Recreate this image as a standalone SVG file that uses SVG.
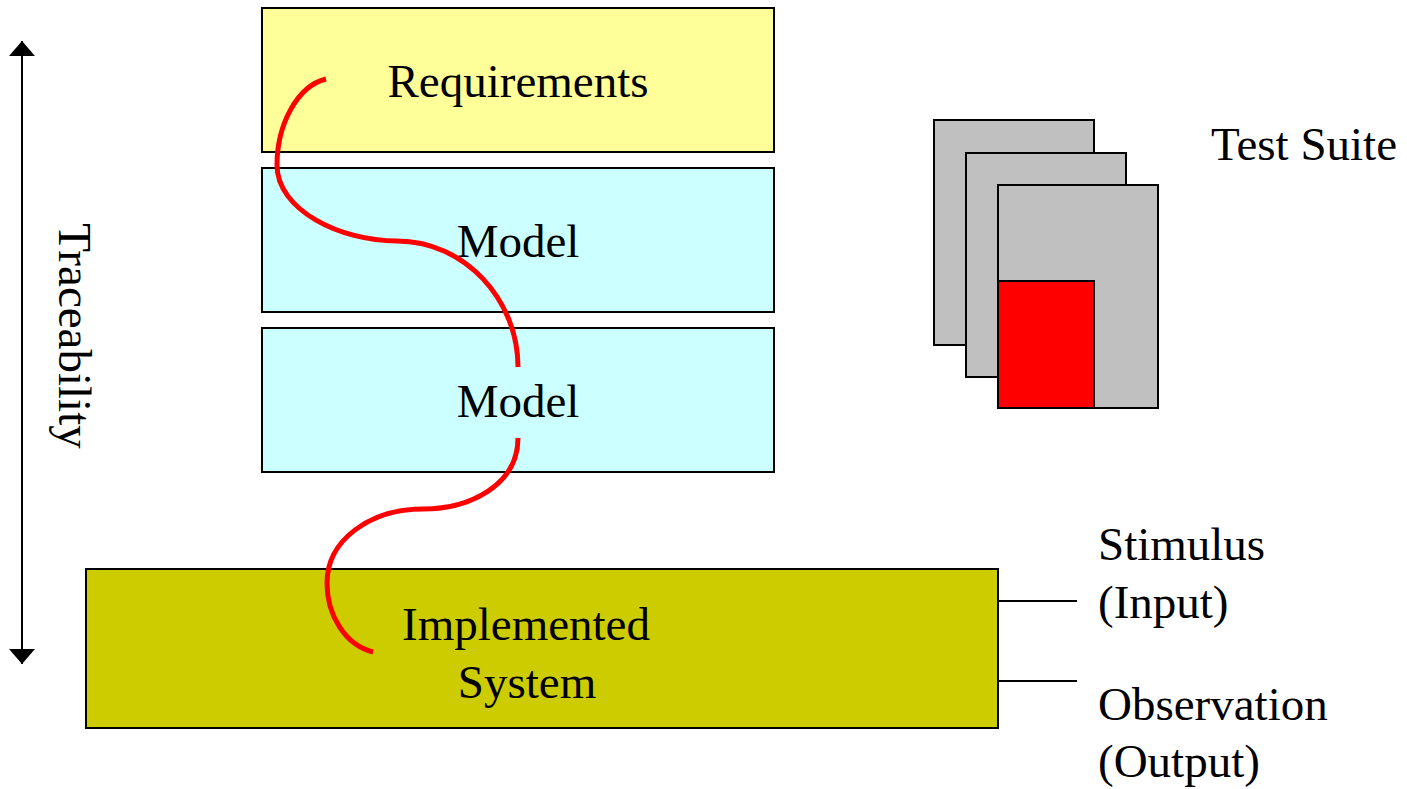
<svg xmlns="http://www.w3.org/2000/svg" width="1407" height="789" viewBox="0 0 1407 789">
<style>
.box{stroke:#000;stroke-width:2}
.t{font-family:"Liberation Serif","Times New Roman",serif;font-size:47px;fill:#000}
.m{text-anchor:middle}
.red{fill:none;stroke:#f00;stroke-width:5;stroke-linecap:butt}
.ln{stroke:#000;stroke-width:2;fill:none}
.pg{fill:#c0c0c0;stroke:#000;stroke-width:2}
</style>
<defs>
<marker id="ah" viewBox="0 0 15 26" refX="15" refY="13" markerWidth="15" markerHeight="26" markerUnits="userSpaceOnUse" orient="auto">
<path d="M0,0 L15,13 L0,26 Z" fill="#000"/>
</marker>
</defs>
<rect width="1407" height="789" fill="#fff"/>
<g id="requirements"><rect class="box" x="262" y="8" width="512" height="144" fill="#ffff99"/><text class="t m" x="518" y="97">Requirements</text></g>
<g id="model1"><rect class="box" x="262" y="168" width="512" height="144" fill="#ccffff"/><text class="t m" x="518" y="257">Model</text></g>
<g id="model2"><rect class="box" x="262" y="328" width="512" height="144" fill="#ccffff"/><text class="t m" x="518" y="417">Model</text></g>
<g id="implemented"><rect class="box" x="86" y="569" width="912" height="159" fill="#cccc00"/><text class="t m" x="526" y="640">Implemented</text><text class="t m" x="527" y="698">System</text></g>
<g id="testsuite">
<rect class="pg" x="934" y="120" width="160" height="225"/>
<rect class="pg" x="966" y="153" width="160" height="224"/>
<rect class="pg" x="998" y="185" width="160" height="223"/>
<rect x="998" y="281" width="96" height="127" fill="#f00" stroke="#000" stroke-width="2"/>
<text class="t" x="1211" y="160">Test Suite</text>
</g>
<g id="traceability"><text class="t m" transform="translate(59,336) rotate(90)">Traceability</text></g>
<g id="io-labels">
<text class="t" x="1098" y="560">Stimulus</text>
<text class="t" x="1098" y="618">(Input)</text>
<text class="t" x="1098" y="720">Observation</text>
<text class="t" x="1098" y="777">(Output)</text>
</g>
<g id="connectors">
<line class="ln" x1="22" y1="336" x2="22" y2="41" marker-end="url(#ah)"/>
<line class="ln" x1="22" y1="336" x2="22" y2="664" marker-end="url(#ah)"/>
<line class="ln" x1="998" y1="601" x2="1077" y2="601"/>
<line class="ln" x1="998" y1="681" x2="1077" y2="681"/>
<path class="red" d="M326,79 C297,86 277,125 277,165 C277,210 340,241 397,241 C465,241 518,300 518,367"/>
<path class="red" d="M518,438 C518,485 470,509 423,509 C370,509 327,540 327,583 C327,615 345,645 373,652"/>
</g>
</svg>
